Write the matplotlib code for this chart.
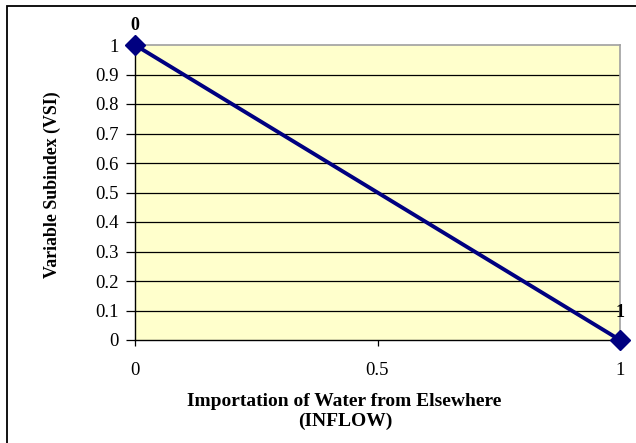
import matplotlib
matplotlib.use("Agg")
import matplotlib.pyplot as plt
from matplotlib.patches import Rectangle

x_vals = [0, 1]
y_vals = [1, 0]
point_labels = ["0", "1"]
x_ticks = [0, 0.5, 1]
x_tick_labels = ["0", "0.5", "1"]
y_ticks = [0, 0.1, 0.2, 0.3, 0.4, 0.5, 0.6, 0.7, 0.8, 0.9, 1]
y_tick_labels = ["0", "0.1", "0.2", "0.3", "0.4", "0.5", "0.6", "0.7", "0.8", "0.9", "1"]
x_title_lines = ["Importation of Water from Elsewhere", "(INFLOW)"]
y_title = "Variable Subindex (VSI)"

plt.rcParams['font.family'] = ['Liberation Serif', 'DejaVu Serif']

W, H = 636, 443
fig = plt.figure(figsize=(W/100, H/100), dpi=100)
fig.patches.append(Rectangle((7/W, -0.1), 1.2, 1 - 6/H + 0.1, transform=fig.transFigure,
                             fill=False, edgecolor='black', linewidth=1.3))

ax = fig.add_axes([135/W, (H-340)/H, 485/W, 295/H])
ax.set_facecolor('#FFFFCC')
ax.set_xlim(0, 1)
ax.set_ylim(0, 1)
for yv in y_ticks[1:-1]:
    ax.axhline(yv, color='black', linewidth=0.9, zorder=1)
ax.plot(x_vals, y_vals, color='#000080', linewidth=2.8, marker='D', markersize=10.5,
        clip_on=False, zorder=3)
label_offsets = [(0, 14), (0, 20)]
for xv, yv, lab, off in zip(x_vals, y_vals, point_labels, label_offsets):
    ax.annotate(lab, (xv, yv), xytext=off, textcoords='offset points',
                ha='center', va='center', fontsize=13, fontweight='bold', annotation_clip=False)

ax.set_xticks(x_ticks)
ax.set_xticklabels(x_tick_labels, fontsize=13.5)
ax.set_yticks(y_ticks)
ax.set_yticklabels(y_tick_labels, fontsize=13.5)
ax.tick_params(axis='y', direction='out', length=6.5, width=0.9, pad=5)
ax.tick_params(axis='x', direction='out', length=4, width=0.9, pad=12)
for s in ['left', 'bottom']:
    ax.spines[s].set_color('black')
    ax.spines[s].set_linewidth(1)
for s in ['top', 'right']:
    ax.spines[s].set_color('#A0A0A0')
    ax.spines[s].set_linewidth(1.2)

fig.text(344/W, 1 - 401/H, x_title_lines[0], ha='center', va='center', fontsize=14,
         fontweight='bold')
fig.text(345/W, 1 - 421/H, x_title_lines[1], ha='center', va='center', fontsize=14,
         fontweight='bold')
fig.text(52/W, 1 - 185/H, y_title, ha='center', va='center', fontsize=12.8,
         fontweight='bold', rotation=90)

fig.savefig('out.png', dpi=100)
